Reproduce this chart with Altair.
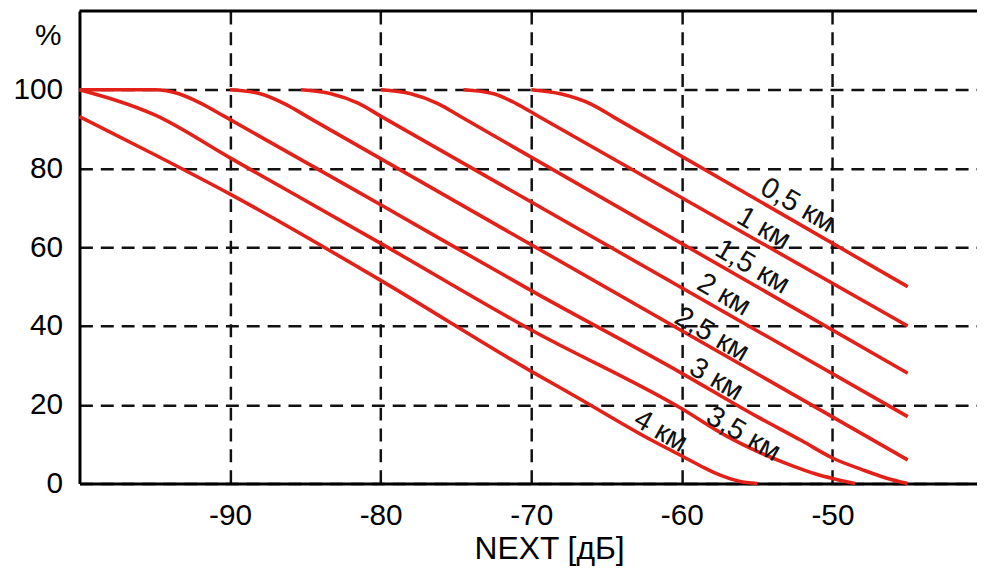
import altair as alt
import pandas as pd

# ---- curve data (NEXT dB vs %) ----
curve_names = ["0,5 км", "1 км", "1,5 км", "2 км", "2,5 км", "3 км", "3,5 км", "4 км"]

x_05 = [-70, -68, -66, -64.5, -45]
y_05 = [100, 98.9, 96.3, 93.0, 50]

x_10 = [-74.5, -72.5, -71, -69.5, -45]
y_10 = [100, 99, 96.5, 93.2, 40]

x_15 = [-80, -78, -76.2, -74.7, -45]
y_15 = [100, 99, 96.5, 93.2, 28]

x_20 = [-85.3, -83.3, -81.5, -80, -45]
y_20 = [100, 99, 96.6, 93.3, 17]

x_25 = [-90, -88, -86.3, -84.8, -45]
y_25 = [100, 99, 96.3, 93.0, 6]

x_30 = [-100, -95, -93.4, -91.9, -90.4, -80, -70, -60, -55, -52, -50, -48, -46.5, -45]
y_30 = [100, 100, 99, 96.5, 93.3, 70.8, 49, 28, 17, 10.8, 6.5, 3.5, 1.5, 0]

x_35 = [-100, -95, -90, -80, -70, -60, -57, -55, -53, -51, -50, -48.5]
y_35 = [100, 93.6, 82.7, 61, 39, 19, 12, 8.2, 5, 2.3, 1.3, 0]

x_40 = [-100, -95, -90, -80, -70, -67, -62, -60, -58.5, -57.5, -56.2, -55]
y_40 = [93.2, 83.5, 73.5, 51.6, 28.5, 22, 11, 7, 4, 2.2, 0.6, 0]

# ---- label data ----
label_text = curve_names
label_x = [-52.3, -54.55, -55.3, -57.2, -58.0, -57.7, -55.9, -61.4]
label_y = [70.7, 64.9, 55.1, 48.0, 37.9, 26.5, 12.6, 13.4]

x_ticks = [-90, -80, -70, -60, -50]
y_ticks = [0, 20, 40, 60, 80, 100]

curves_x = [x_05, x_10, x_15, x_20, x_25, x_30, x_35, x_40]
curves_y = [y_05, y_10, y_15, y_20, y_25, y_30, y_35, y_40]

rows = []
for name, xs, ys in zip(curve_names, curves_x, curves_y):
    for i, (xv, yv) in enumerate(zip(xs, ys)):
        rows.append({"curve": name, "idx": i, "x": xv, "y": yv})
df = pd.DataFrame(rows)
labels = pd.DataFrame({"text": label_text, "x": label_x, "y": label_y})

FONT = "Liberation Sans"
RED = "#e32119"

xscale = alt.Scale(domain=[-100, -40.4], nice=False, zero=False)
yscale = alt.Scale(domain=[0, 120], nice=False, zero=False)

xaxis = alt.Axis(values=x_ticks, ticks=False, labelPadding=17, labelFontSize=30,
                 labelExpr="(datum.value < 0 ? '-' : '') + abs(datum.value)",
                 labelFont=FONT, labelColor="black", domainColor="black", domainWidth=3,
                 grid=True, gridDash=[13, 8], gridColor="#111111", gridWidth=2.5,
                 title="NEXT [дБ]", titleFont=FONT, titleFontSize=32, titleFontWeight="normal",
                 titleColor="black", titlePadding=3, titleX=473, titleAlign="center")
yaxis = alt.Axis(values=y_ticks, ticks=False, labelPadding=17, labelFontSize=30,
                 labelFont=FONT, labelColor="black", domainColor="black", domainWidth=3,
                 grid=True, gridDash=[13, 8], gridColor="#111111", gridWidth=2.5,
                 title="%", titleFont=FONT, titleFontSize=30, titleFontWeight="normal",
                 titleColor="black", titleAngle=0, titleX=-32, titleY=25,
                 titleAlign="center", titleBaseline="middle")

lines = alt.Chart(df).mark_line(color=RED, strokeWidth=3.6, interpolate="monotone").encode(
    x=alt.X("x:Q", scale=xscale, axis=xaxis),
    y=alt.Y("y:Q", scale=yscale, axis=yaxis),
    detail="curve:N",
    order="idx:Q",
)

texts = alt.Chart(labels).mark_text(font=FONT, fontSize=29, angle=30, color="#111111",
                                     align="center", baseline="middle").encode(
    x=alt.X("x:Q", scale=xscale),
    y=alt.Y("y:Q", scale=yscale),
    text="text:N",
)

top_border = alt.Chart(pd.DataFrame({"a": [0]})).mark_rule(color="black", strokeWidth=3).encode(
    x=alt.value(0), x2=alt.value(904), y=alt.value(0)
)

chart = alt.layer(lines, texts, top_border).properties(
    width=904, height=476,
    autosize=alt.AutoSizeParams(type="none"),
    padding={"left": 72, "top": 1, "right": 0, "bottom": 84},
).configure_view(stroke=None).configure(background="white")

chart.save("out.html", embed_options={"renderer": "svg", "actions": False})
